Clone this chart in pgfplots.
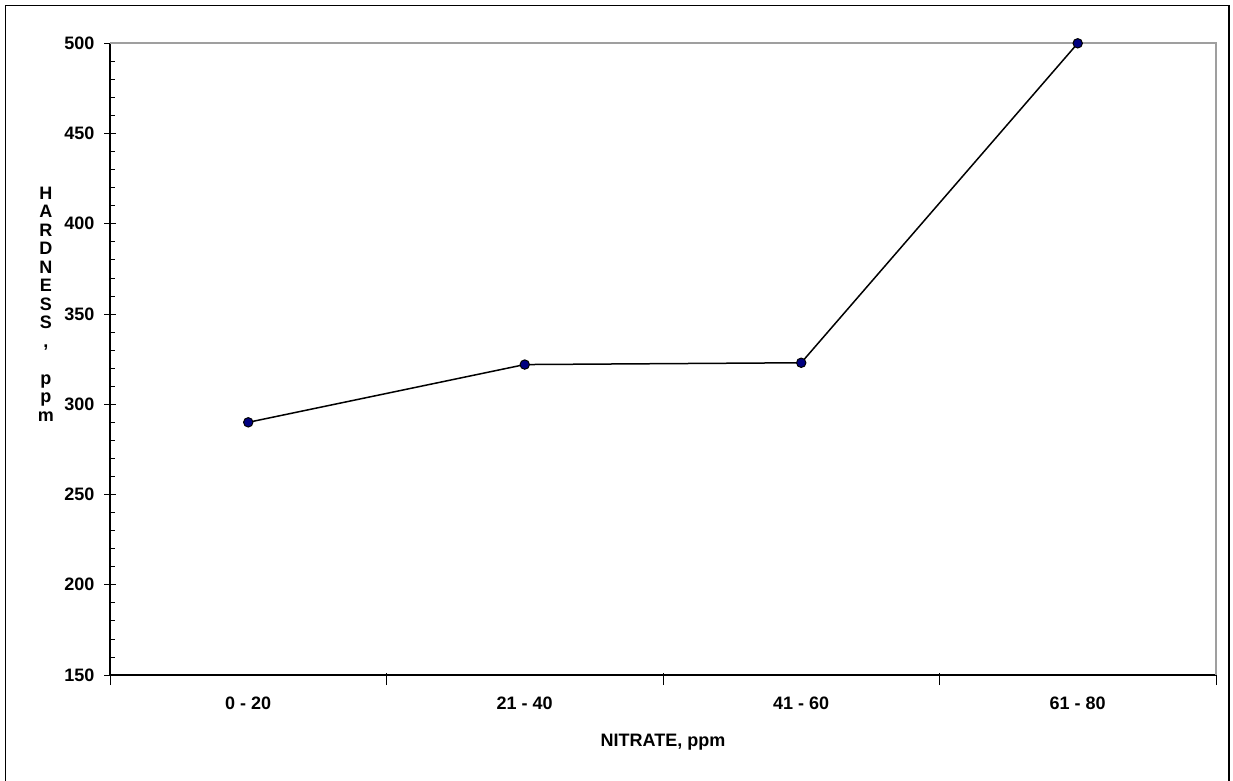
\documentclass[border=0pt]{standalone}
\usepackage{pgfplots}
\pgfplotsset{compat=1.18}
\usepackage{fontspec}
\setmainfont{Liberation Sans}
\definecolor{mknavy}{HTML}{000080}
\begin{document}
\begin{tikzpicture}
\useasboundingbox (0,0) rectangle (1233pt,780pt);
\draw[line width=1.2pt] (5.5pt,-3pt) rectangle (1229pt,774.3pt);
\begin{axis}[
  at={(110pt,105pt)}, anchor=south west,
  scale only axis, width=1106pt, height=631.7pt,
  xmin=-0.5, xmax=3.5, ymin=150, ymax=500,
  axis lines*=left,
  axis line style={line width=1.5pt, black},
  clip=false,
  xtick={-0.5,0.5,1.5,2.5,3.5},
  x tick label as interval,
  xticklabels={0 - 20, 21 - 40, 41 - 60, 61 - 80},
  ytick={150,200,...,500},
  minor y tick num=4,
  tick align=center,
  major tick length=12pt,
  minor tick length=5pt,
  x tick style={line width=0.8pt, black, yshift=-4pt},
  y tick style={line width=0.8pt, black},
  minor y tick style={line width=0.8pt, black, xshift=2.5pt},
  /pgf/number format/assume math mode=true,
  tick label style={font=\fontsize{18}{20}\selectfont\bfseries},
  yticklabel style={xshift=-6pt},
  xticklabel style={yshift=-12pt},
  xlabel={NITRATE, ppm},
  xlabel style={font=\fontsize{18}{20}\selectfont\bfseries, at={(axis description cs:0.5,0)}, anchor=center, yshift=-67pt},
  ylabel={H\\A\\R\\D\\N\\E\\S\\S\\,\\\strut\\p\\p\\m},
  ylabel style={font=\fontsize{18}{18.5}\selectfont\bfseries, align=center, rotate=-90, at={(axis description cs:-0.0579,0.587)}, anchor=center},
]
\draw[gray!75, line width=2pt] (rel axis cs:0,1) -- (rel axis cs:1,1) -- (rel axis cs:1,0);
\addplot[black, line width=1.5pt, mark=*, mark size=4.7pt, mark options={fill=mknavy, draw=black, line width=1pt}]
  coordinates {(0,290) (1,322) (2,323) (3,500)};
\end{axis}
\end{tikzpicture}
\end{document}
